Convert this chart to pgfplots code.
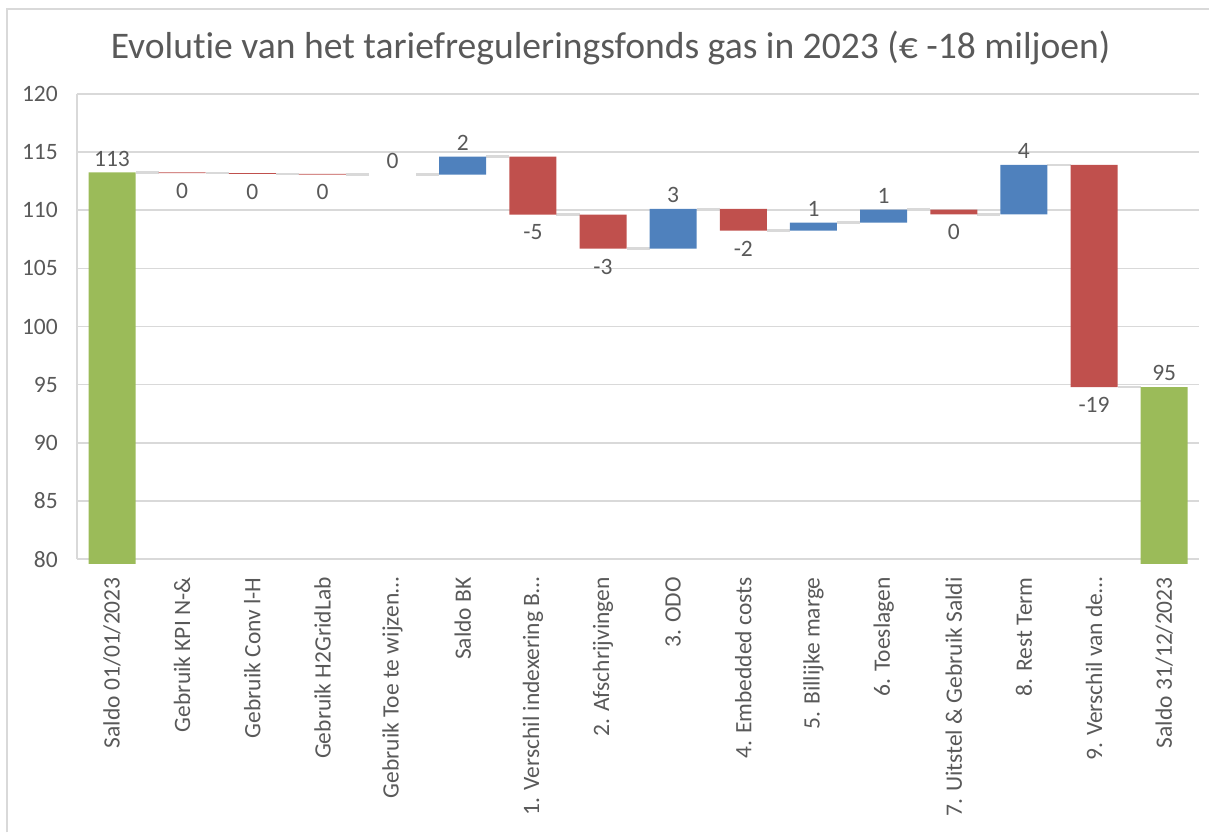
\documentclass[border=0pt]{standalone}
\usepackage{pgfplots}
\usepackage{pgfplotstable}
\pgfplotsset{compat=1.18}
\usepackage{fontspec}
\setmainfont{Carlito}[Ligatures=NoCommon]
\definecolor{tc}{HTML}{595959}
\definecolor{gridc}{HTML}{D9D9D9}
\definecolor{cgreen}{HTML}{9BBB59}
\definecolor{cblue}{HTML}{4F81BD}
\definecolor{cred}{HTML}{C0504D}
\newcommand{\tfont}{\fontsize{23.5}{28}\selectfont}

\pgfplotstableread{
x base red blue green
0 0 0 0 113.25
1 113.19 0.06 0 0
2 113.13 0.06 0 0
3 113.07 0.06 0 0
4 113.07 0 0 0
5 113.07 0 1.53 0
6 109.62 4.98 0 0
7 106.70 2.92 0 0
8 106.70 0 3.42 0
9 108.24 1.88 0 0
10 108.24 0 0.69 0
11 108.93 0 1.12 0
12 109.64 0.41 0 0
13 109.64 0 4.27 0
14 94.79 19.12 0 0
15 0 0 0 94.79
}\bars

\pgfplotstableread{
x y
0.335 113.25
0.665 113.25
nan nan
1.335 113.19
1.665 113.19
nan nan
2.335 113.13
2.665 113.13
nan nan
3.335 113.07
3.665 113.07
nan nan
4.335 113.07
4.665 113.07
nan nan
5.335 114.60
5.665 114.60
nan nan
6.335 109.62
6.665 109.62
nan nan
7.335 106.70
7.665 106.70
nan nan
8.335 110.12
8.665 110.12
nan nan
9.335 108.24
9.665 108.24
nan nan
10.335 108.93
10.665 108.93
nan nan
11.335 110.05
11.665 110.05
nan nan
12.335 109.64
12.665 109.64
nan nan
13.335 113.91
13.665 113.91
nan nan
14.335 94.79
14.665 94.79
}\conn

\pgfplotstableread{
x y lab
0 113.25 113
4 113.07 0
5 114.60 2
8 110.12 3
10 108.93 1
11 110.05 1
13 113.91 4
15 94.79 95
}\labup

\pgfplotstableread{
x y lab
1 113.19 0
2 113.13 0
3 113.07 0
6 109.62 -5
7 106.70 -3
9 108.24 -2
12 109.64 0
14 94.79 -19
}\labdown

\begin{document}
\begin{tikzpicture}
\path (0pt,0pt) rectangle (1210pt,833pt);
\draw[gridc, line width=1.5pt] (7pt,0pt) -- (7pt,824pt) -- (1210pt,824pt);
\node[anchor=base, text=tc, font=\fontsize{37.6}{44}\selectfont, inner sep=0pt] at (611pt,774pt) {Evolutie van het tariefreguleringsfonds gas in 2023 (€ -18 miljoen)};

\begin{axis}[
  at={(77pt,273.5pt)}, anchor=south west,
  scale only axis, width=1123pt, height=465.5pt,
  xmin=-0.5, xmax=15.5, ymin=80, ymax=120,
  axis x line*=bottom, axis y line*=left,
  axis line style={gridc, line width=1.5pt},
  major tick length=0pt, tick style={draw=none},
  ymajorgrids, grid style={gridc, line width=1.5pt},
  ytick={80,85,...,120},
  xtick={0,...,15},
  xticklabels={{Saldo 01/01/2023},{Gebruik KPI N-\&},{Gebruik Conv l-H},{Gebruik H2GridLab},{Gebruik Toe te wijzen…},{Saldo BK},{1. Verschil indexering B…},{2. Afschrijvingen},{3. ODO},{4. Embedded costs},{5. Billijke marge},{6. Toeslagen},{7. Uitstel \& Gebruik Saldi},{8. Rest Term},{9. Verschil van de…},{Saldo 31/12/2023}},
  x tick label style={rotate=90, anchor=east, text=tc, font=\tfont, inner sep=0pt},
  xticklabel shift=18pt,
  y tick label style={text=tc, font=\tfont, inner sep=0pt, anchor=east},
  yticklabel shift=19pt,
  /pgf/number format/assume math mode=true,
  unbounded coords=jump,
  clip=false,
]
\addplot[gridc, line width=2.5pt] table[x=x,y=y]{\conn};
\addplot[draw=none, nodes near coords, point meta=explicit symbolic,
  nodes near coords style={anchor=south, inner sep=0pt, yshift=6pt, text=tc, font=\tfont}]
  table[x=x,y=y,meta=lab]{\labup};
\addplot[draw=none, nodes near coords, point meta=explicit symbolic,
  nodes near coords style={anchor=north, inner sep=0pt, yshift=-10pt, text=tc, font=\tfont}]
  table[x=x,y=y,meta=lab]{\labdown};
\end{axis}

\begin{axis}[
  at={(77pt,269.54pt)}, anchor=south west,
  scale only axis, width=1123pt, height=469.46pt,
  xmin=-0.5, xmax=15.5, ymin=79.66, ymax=120,
  hide axis, ybar stacked, bar width=0.67,
]
\addplot[draw=none, fill=none] table[x=x,y=base]{\bars};
\addplot[draw=none, fill=cred] table[x=x,y=red]{\bars};
\addplot[draw=none, fill=cblue] table[x=x,y=blue]{\bars};
\addplot[draw=none, fill=cgreen] table[x=x,y=green]{\bars};
\end{axis}
\end{tikzpicture}
\end{document}
